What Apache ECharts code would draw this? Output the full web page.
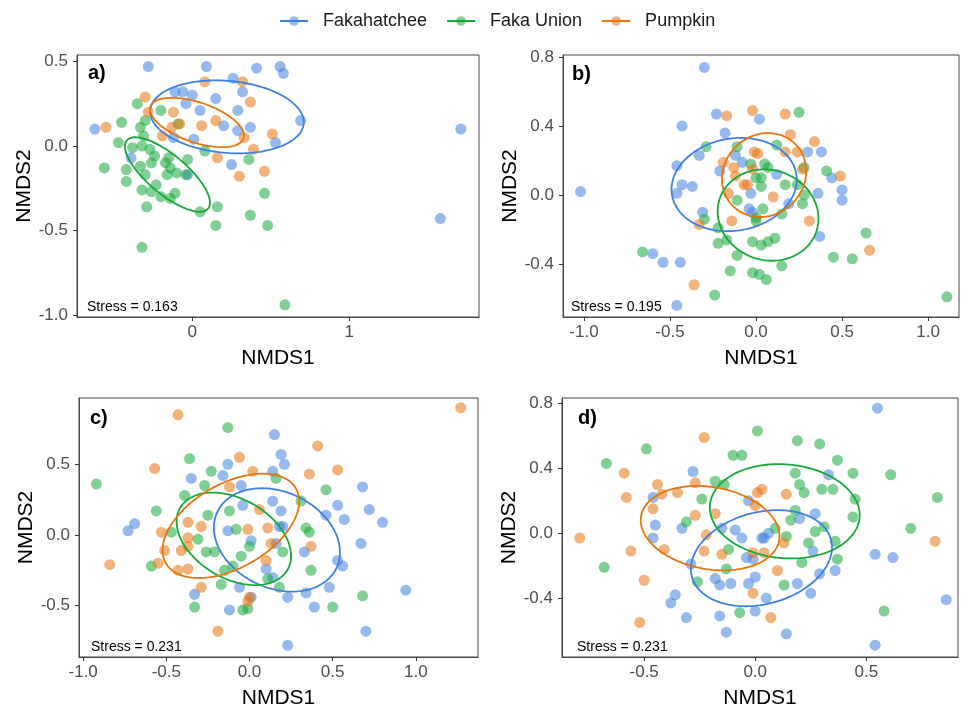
<!DOCTYPE html>
<html><head><meta charset="utf-8">
<script src="https://cdn.jsdelivr.net/npm/echarts@6/dist/echarts.min.js"></script>
<style>html,body{margin:0;padding:0;background:#fff}#c{width:965px;height:714px}</style>
</head><body><div id="c"></div>
<script>
const groups = ['Fakahatchee', 'Faka Union', 'Pumpkin'];
const colors = ['#3f7fe0', '#17a83c', '#e8740c'];
const stressLabels = ['Stress = 0.163', 'Stress = 0.195', 'Stress = 0.231', 'Stress = 0.231'];
const panelLabels = ['a)', 'b)', 'c)', 'd)'];

// ---- Panel a ----
const a_Fakahatchee = [[-0.28,0.47],[0.09,0.47],[0.41,0.46],[0.56,0.47],[0.58,0.43],[0.26,0.40],[0.32,0.32],[-0.11,0.32],[-0.06,0.32],[0.00,0.30],[0.15,0.28],[-0.04,0.25],[0.05,0.21],[0.29,0.21],[0.20,0.12],[0.29,0.09],[0.37,0.11],[-0.62,0.10],[0.53,0.02],[0.01,0.04],[-0.12,0.05],[-0.39,-0.07],[0.25,-0.11],[-0.03,-0.17],[0.69,0.15],[1.71,0.10],[1.58,-0.43]];
const a_FakaUnion = [[-0.35,0.25],[-0.20,0.21],[-0.45,0.14],[-0.30,0.15],[-0.33,0.11],[-0.09,0.13],[-0.47,0.02],[-0.31,0.06],[-0.38,-0.01],[-0.32,0.00],[-0.27,-0.02],[-0.24,-0.06],[-0.15,-0.07],[-0.03,-0.08],[0.08,-0.03],[0.36,-0.08],[-0.56,-0.13],[-0.42,-0.14],[-0.33,-0.12],[-0.26,-0.10],[-0.17,-0.10],[-0.14,-0.13],[-0.10,-0.16],[-0.04,-0.17],[-0.30,-0.17],[-0.16,-0.17],[-0.42,-0.21],[-0.32,-0.26],[-0.23,-0.23],[-0.20,-0.30],[-0.14,-0.31],[-0.11,-0.28],[-0.26,-0.27],[-0.29,-0.36],[0.05,-0.39],[0.16,-0.36],[0.15,-0.47],[0.37,-0.41],[0.48,-0.47],[0.46,-0.28],[-0.32,-0.60],[0.59,-0.94]];
const a_Pumpkin = [[0.08,0.38],[0.32,0.38],[-0.30,0.29],[-0.28,0.20],[-0.12,0.20],[0.37,0.26],[0.15,0.15],[-0.08,0.13],[-0.13,0.11],[0.06,0.12],[-0.55,0.11],[0.33,0.05],[0.51,0.07],[0.39,-0.02],[0.16,-0.07],[0.30,-0.18],[0.46,-0.15],[-0.19,0.06]];
// ellipse: [centerX, centerY, axis1X, axis1Y, axis2X, axis2Y]
const a_ellipses = [[0.221,0.172,0.489,-0.040,-0.020,-0.212],[-0.158,-0.169,0.259,-0.202,-0.080,-0.088],[0.030,0.139,0.297,-0.094,-0.041,-0.112]];

// ---- Panel b ----
const b_Fakahatchee = [[-0.30,0.74],[-0.23,0.47],[-0.43,0.40],[-0.18,0.36],[0.02,0.44],[-0.33,0.23],[-0.12,0.23],[-0.08,0.19],[-0.46,0.17],[-0.21,0.14],[-0.43,0.06],[-0.37,0.05],[-0.46,0.01],[-1.02,0.02],[-0.03,0.01],[-0.04,-0.08],[-0.31,-0.10],[-0.02,-0.10],[-0.60,-0.34],[-0.54,-0.39],[-0.44,-0.39],[-0.46,-0.64],[0.12,0.12],[0.30,0.25],[0.38,0.25],[0.44,0.10],[0.36,0.01],[0.50,0.03],[0.50,-0.03],[0.19,-0.05],[0.37,-0.24]];
const b_FakaUnion = [[-0.29,0.28],[-0.11,0.28],[-0.03,0.18],[0.00,0.10],[-0.11,-0.03],[-0.30,-0.14],[-0.22,-0.19],[0.00,-0.15],[-0.17,-0.26],[-0.22,-0.28],[-0.11,-0.35],[-0.02,-0.27],[-0.66,-0.33],[-0.15,-0.44],[-0.02,-0.45],[0.02,-0.46],[-0.24,-0.58],[0.25,0.48],[0.12,0.29],[0.05,0.18],[0.07,0.16],[0.03,0.10],[0.03,0.05],[0.17,0.06],[0.28,0.16],[0.41,0.14],[0.24,0.06],[0.28,0.00],[0.27,-0.05],[0.04,-0.08],[0.15,-0.11],[0.00,-0.13],[0.03,-0.29],[0.07,-0.27],[0.11,-0.25],[0.15,-0.41],[0.45,-0.36],[0.56,-0.37],[0.64,-0.22],[0.06,-0.49],[1.11,-0.59]];
const b_Pumpkin = [[-0.17,0.46],[-0.02,0.49],[-0.19,0.19],[-0.01,0.25],[-0.13,0.16],[-0.12,0.11],[-0.07,0.06],[-0.16,0.01],[-0.14,-0.15],[-0.33,-0.17],[-0.36,-0.52],[0.17,0.47],[0.20,0.35],[0.34,0.31],[0.17,0.25],[0.24,0.25],[0.01,0.24],[0.27,0.15],[-0.05,0.06],[0.10,-0.01],[0.49,0.11],[0.31,-0.15],[0.66,-0.32],[-0.02,0.15]];
const b_ellipses = [[-0.127,0.061,0.361,0.063,0.047,-0.263],[0.070,-0.116,0.279,-0.101,-0.090,-0.245],[0.047,0.116,0.181,0.180,0.165,-0.164]];

// ---- Panel c ----
const c_Fakahatchee = [[0.15,0.71],[0.19,0.57],[-0.13,0.50],[-0.16,0.42],[-0.35,0.40],[-0.05,0.35],[0.14,0.45],[-0.04,0.21],[0.14,0.24],[-0.69,0.08],[-0.73,0.03],[-0.13,0.03],[0.01,-0.04],[0.18,0.06],[0.16,-0.06],[0.10,-0.24],[-0.06,-0.37],[-0.33,-0.42],[-0.12,-0.53],[0.01,-0.44],[0.21,0.50],[0.19,0.17],[0.20,0.06],[0.68,0.34],[0.53,0.21],[0.46,0.14],[0.57,0.11],[0.72,0.18],[0.80,0.09],[0.67,-0.06],[0.33,-0.12],[0.53,-0.18],[0.56,-0.22],[0.14,-0.30],[0.23,-0.44],[0.34,-0.41],[0.48,-0.37],[0.39,-0.51],[0.94,-0.39],[0.70,-0.68],[0.23,-0.78]];
const c_FakaUnion = [[-0.13,0.76],[-0.92,0.36],[-0.36,0.54],[-0.23,0.45],[-0.27,0.35],[-0.39,0.28],[0.16,0.40],[-0.56,0.17],[-0.25,0.14],[-0.12,0.17],[-0.47,0.02],[-0.31,-0.03],[-0.08,0.04],[0.00,-0.08],[-0.26,-0.12],[-0.21,-0.12],[-0.05,-0.15],[-0.59,-0.22],[-0.15,-0.25],[-0.10,-0.22],[-0.17,-0.35],[0.11,-0.31],[-0.33,-0.51],[-0.04,-0.53],[-0.01,-0.52],[0.18,-0.37],[0.46,0.32],[0.31,0.24],[0.34,0.05],[0.36,0.02],[0.20,-0.12],[0.37,-0.25],[0.68,-0.43],[0.50,-0.51]];
const c_Pumpkin = [[-0.43,0.85],[-0.06,0.55],[-0.57,0.47],[0.02,0.45],[-0.12,0.34],[0.06,0.18],[-0.37,0.09],[-0.29,0.06],[-0.53,0.02],[-0.37,-0.02],[-0.01,0.04],[0.11,0.05],[-0.37,-0.08],[-0.41,-0.11],[0.13,-0.06],[-0.51,-0.11],[-0.84,-0.21],[-0.55,-0.20],[-0.43,-0.25],[-0.37,-0.24],[0.10,-0.18],[-0.29,-0.37],[0.00,-0.44],[-0.01,-0.47],[-0.19,-0.68],[1.27,0.90],[0.41,0.63],[0.36,0.43],[0.53,0.46],[0.37,-0.08]];
const c_ellipses = [[0.165,-0.035,0.359,-0.197,-0.122,-0.308],[-0.094,-0.027,0.323,-0.219,-0.119,-0.243],[-0.112,0.065,0.391,0.265,0.126,-0.257]];

// ---- Panel d ----
const d_Fakahatchee = [[-0.28,0.38],[-0.46,0.22],[-0.03,0.20],[-0.45,0.05],[-0.33,0.03],[-0.46,-0.03],[-0.15,0.03],[-0.09,0.02],[-0.06,-0.03],[0.03,-0.03],[-0.29,-0.19],[-0.04,-0.15],[-0.01,-0.16],[-0.18,-0.28],[-0.16,-0.32],[-0.11,-0.31],[-0.03,-0.31],[0.00,-0.27],[-0.36,-0.38],[-0.38,-0.43],[-0.31,-0.52],[-0.16,-0.51],[-0.13,-0.61],[0.00,-0.48],[0.55,0.77],[0.33,0.36],[0.27,0.12],[0.20,0.09],[0.06,0.00],[0.04,-0.03],[0.26,-0.11],[0.54,-0.13],[0.62,-0.15],[0.36,-0.23],[0.29,-0.25],[0.19,-0.31],[0.25,-0.37],[0.05,-0.40],[0.14,-0.62],[0.54,-0.69],[0.86,-0.41]];
const d_FakaUnion = [[0.01,0.63],[-0.49,0.52],[-0.67,0.43],[-0.10,0.48],[-0.06,0.48],[-0.18,0.32],[-0.14,0.30],[-0.24,0.21],[-0.31,0.07],[-0.12,-0.10],[-0.13,-0.22],[-0.26,-0.30],[-0.68,-0.21],[-0.07,-0.49],[0.19,0.57],[0.29,0.55],[0.37,0.45],[0.18,0.37],[0.44,0.37],[0.61,0.36],[0.20,0.30],[0.22,0.25],[0.30,0.27],[0.35,0.27],[0.45,0.21],[0.82,0.22],[0.18,0.14],[0.16,0.08],[0.44,0.10],[0.31,0.04],[0.27,0.01],[0.09,0.03],[0.14,-0.02],[0.24,-0.06],[0.36,-0.05],[0.70,0.03],[0.37,-0.16],[0.21,-0.18],[0.13,-0.32],[0.58,-0.48]];
const d_Pumpkin = [[-0.23,0.59],[-0.59,0.37],[-0.44,0.30],[-0.42,0.24],[-0.58,0.22],[-0.35,0.25],[-0.27,0.31],[-0.46,0.15],[-0.27,0.11],[-0.18,0.12],[0.01,0.25],[0.03,0.27],[0.00,0.17],[-0.22,-0.01],[-0.79,-0.03],[-0.56,-0.11],[-0.41,-0.10],[-0.23,-0.11],[-0.15,-0.13],[-0.01,-0.12],[-0.50,-0.29],[-0.01,-0.37],[-0.52,-0.55],[0.14,0.24],[0.13,-0.06],[0.04,-0.12],[0.10,-0.23],[0.07,-0.52],[0.81,-0.05]];
const d_ellipses = [[0.028,-0.154,0.313,0.115,0.054,-0.273],[0.133,0.135,0.337,-0.040,-0.019,-0.288],[-0.203,0.031,0.311,-0.075,-0.032,-0.249]];

// ---- Axes: ranges and tick values ----
const xRanges = [[-0.734,1.826],[-1.122,1.180],[-1.025,1.374],[-0.870,0.913]];
const yRanges = [[-1.012,0.538],[-0.707,0.812],[-0.863,0.969],[-0.763,0.833]];
const xTicks = [[0,1],[-1,-0.5,0,0.5,1],[-1,-0.5,0,0.5,1],[-0.5,0,0.5]];
const yTicks = [[-1,-0.5,0,0.5],[-0.4,0,0.4,0.8],[-0.5,0,0.5],[-0.4,0,0.4,0.8]];
const xDecimals = [0,1,1,1];
const yDecimals = [1,1,1,1];

const panelPoints = [
  [a_Fakahatchee, a_FakaUnion, a_Pumpkin],
  [b_Fakahatchee, b_FakaUnion, b_Pumpkin],
  [c_Fakahatchee, c_FakaUnion, c_Pumpkin],
  [d_Fakahatchee, d_FakaUnion, d_Pumpkin]
];
const panelEllipses = [a_ellipses, b_ellipses, c_ellipses, d_ellipses];

// layout
const grids = [
  {left:77, top:55, width:402, height:262},
  {left:563, top:55, width:396, height:262},
  {left:79, top:398, width:399, height:259},
  {left:562, top:398, width:396, height:259}
];
const labelPos = [[88,63],[572,64],[90,408],[578,408]];
const stressPos = [[87,300],[571,300],[91,640],[577,640]];

const FONT = '"Liberation Sans", Arial, sans-serif';

function ellipsePts(e) {
  const pts = [];
  for (let k = 0; k <= 144; k++) {
    const t = 2 * Math.PI * k / 144;
    pts.push([e[0] + e[2] * Math.cos(t) + e[4] * Math.sin(t), e[1] + e[3] * Math.cos(t) + e[5] * Math.sin(t)]);
  }
  return pts;
}

const xAxis = [], yAxis = [], series = [], titles = [];
grids.forEach((g, i) => {
  g.show = true; g.borderColor = '#444'; g.borderWidth = 1; g.backgroundColor = 'transparent';
  xAxis.push({
    type:'value', gridIndex:i, min:xRanges[i][0], max:xRanges[i][1],
    name:'NMDS1', nameLocation:'middle', nameGap:31,
    nameTextStyle:{fontSize:21, color:'#000', fontFamily:FONT},
    axisLine:{show:true, onZero:false, lineStyle:{color:'#444', width:1}},
    axisTick:{show:true, length:4, customValues:xTicks[i], lineStyle:{color:'#333'}},
    axisLabel:{customValues:xTicks[i], formatter:(v)=>Number(v).toFixed(xDecimals[i]), fontSize:17, color:'#4d4d4d', margin:7, fontFamily:FONT},
    splitLine:{show:false}
  });
  yAxis.push({
    type:'value', gridIndex:i, min:yRanges[i][0], max:yRanges[i][1],
    name:'NMDS2', nameLocation:'middle', nameGap:40,
    nameTextStyle:{fontSize:21, color:'#000', fontFamily:FONT},
    axisLine:{show:true, onZero:false, lineStyle:{color:'#444', width:1}},
    axisTick:{show:true, length:4, customValues:yTicks[i], lineStyle:{color:'#333'}},
    axisLabel:{customValues:yTicks[i], formatter:(v)=>Number(v).toFixed(yDecimals[i]), fontSize:17, color:'#4d4d4d', margin:9, fontFamily:FONT},
    splitLine:{show:false}
  });
  titles.push({text:panelLabels[i], left:labelPos[i][0], top:labelPos[i][1], padding:0,
    textStyle:{fontSize:20, fontWeight:'bold', color:'#000', fontFamily:FONT}});
  titles.push({text:stressLabels[i], left:stressPos[i][0], top:stressPos[i][1], padding:0,
    textStyle:{fontSize:14, fontWeight:'normal', color:'#000', fontFamily:FONT}});
});

// ellipses first (so legend shows line+point icon)
for (let i = 0; i < 4; i++) {
  groups.forEach((name, gi) => {
    series.push({
      type:'line', name, xAxisIndex:i, yAxisIndex:i,
      data: ellipsePts(panelEllipses[i][gi]),
      showSymbol:false, symbol:'circle', symbolSize:10, smooth:false, silent:true, z:4,
      lineStyle:{color:colors[gi], width:1.8},
      itemStyle:{color:colors[gi], opacity:0.55}
    });
  });
}
for (let i = 0; i < 4; i++) {
  groups.forEach((name, gi) => {
    series.push({
      type:'scatter', name, xAxisIndex:i, yAxisIndex:i,
      data: panelPoints[i][gi], symbol:'circle', symbolSize:11, z:2,
      itemStyle:{color:colors[gi], opacity:0.55}
    });
  });
}

const chart = echarts.init(document.getElementById('c'), null, {renderer:'canvas'});
chart.setOption({
  animation:false,
  backgroundColor:'#fff',
  title: titles,
  legend: {
    data: groups, top:7, left:274, itemWidth:28, itemHeight:12, itemGap:19,
    textStyle:{fontSize:18, color:'#1a1a1a', fontFamily:FONT, padding:[0,0,0,10]}
  },
  grid: grids, xAxis, yAxis, series
});
</script></body></html>
